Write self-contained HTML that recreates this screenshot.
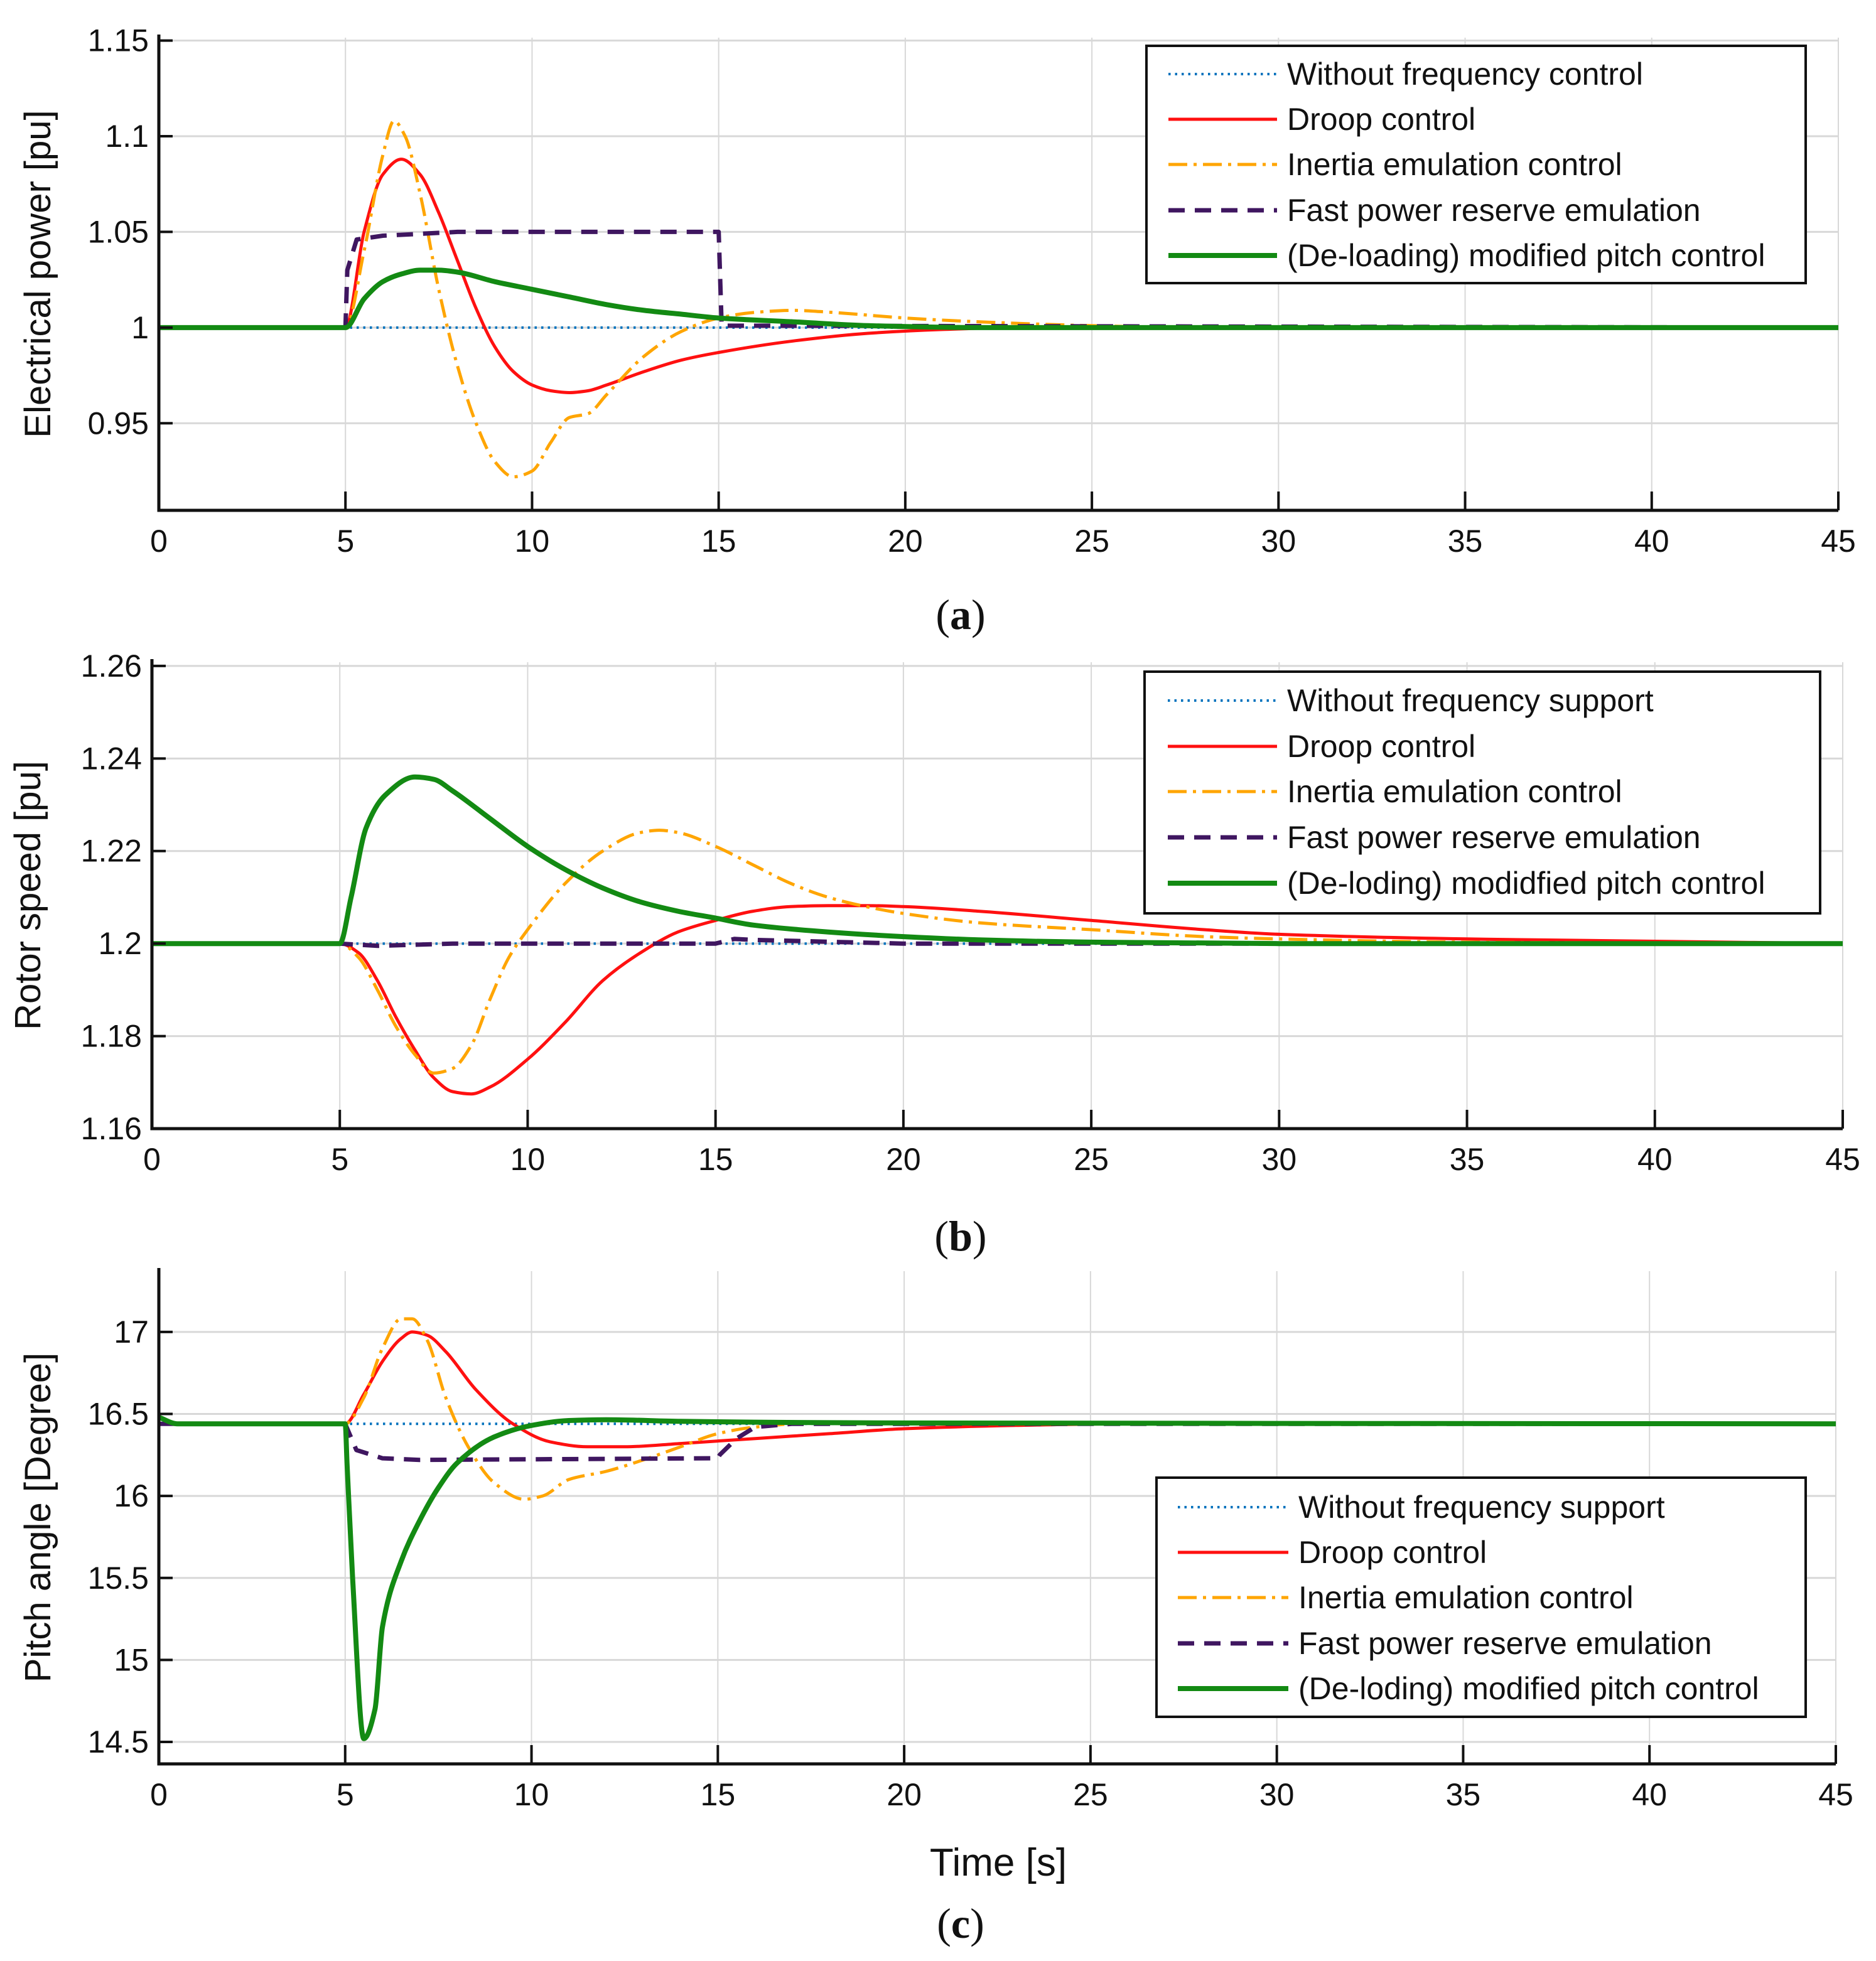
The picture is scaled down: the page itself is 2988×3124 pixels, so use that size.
<!DOCTYPE html>
<html><head><meta charset="utf-8"><style>
body{margin:0;background:#fff}
svg{display:block;font-family:"Liberation Sans",Arial,sans-serif}
</style></head><body>
<svg id="fig" width="2988" height="3124" viewBox="0 0 2988 3124" xmlns="http://www.w3.org/2000/svg"></svg>
<script>
const timeTicks=[0,5,10,15,20,25,30,35,40,45];
// Panel (a) electrical power
const aTicks=[0.95,1,1.05,1.1,1.15];
const aNoCtrl=[[0,1],[45,1]];
const aDroop=[[0,1],[5,1],[5.5,1.05],[6,1.08],[6.5,1.088],[7,1.08],[7.5,1.06],[8,1.035],[8.5,1.01],[9,0.99],[9.5,0.977],[10,0.97],[10.5,0.967],[11,0.966],[11.5,0.967],[12,0.97],[13,0.977],[14,0.983],[15,0.987],[17,0.993],[19,0.997],[21,0.999],[23,1],[45,1]];
const aInertia=[[0,1],[5,1],[5.5,1.04],[6,1.09],[6.3,1.108],[6.6,1.1],[7,1.07],[7.5,1.02],[8,0.98],[8.5,0.95],[9,0.93],[9.5,0.922],[10,0.925],[10.5,0.94],[11,0.953],[11.5,0.955],[12,0.965],[13,0.985],[14,0.998],[15,1.005],[16,1.008],[17,1.009],[18,1.008],[20,1.005],[22,1.003],[25,1.001],[28,1],[45,1]];
const aFast=[[0,1],[5,1],[5.05,1.03],[5.3,1.046],[6,1.048],[7,1.049],[8,1.05],[15,1.05],[15.08,1.001],[45,1]];
const aPitch=[[0,1],[5,1],[5.5,1.015],[6,1.024],[6.5,1.028],[7,1.03],[7.5,1.03],[8,1.029],[9,1.024],[10,1.02],[11,1.016],[12,1.012],[13,1.009],[14,1.007],[15,1.005],[17,1.003],[19,1.001],[22,1],[45,1]];
// Panel (b) rotor speed
const bTicks=[1.16,1.18,1.2,1.22,1.24,1.26];
const bNoCtrl=[[0,1.2],[45,1.2]];
const bDroop=[[0,1.2],[5,1.2],[5.5,1.198],[6,1.192],[6.5,1.184],[7,1.177],[7.5,1.171],[8,1.168],[8.5,1.1675],[9,1.169],[10,1.175],[11,1.183],[12,1.192],[13,1.198],[14,1.2025],[15,1.205],[16,1.207],[17,1.208],[18,1.2082],[19,1.2082],[20,1.208],[22,1.207],[25,1.205],[28,1.203],[30,1.202],[35,1.201],[40,1.2005],[45,1.2]];
const bInertia=[[0,1.2],[5,1.2],[5.5,1.197],[6,1.19],[6.5,1.182],[7,1.176],[7.5,1.172],[8,1.173],[8.5,1.178],[9,1.188],[9.5,1.197],[10,1.203],[11,1.213],[12,1.22],[13,1.224],[13.5,1.2245],[14,1.224],[15,1.221],[16,1.217],[17,1.213],[18,1.21],[19,1.208],[20,1.2065],[22,1.2045],[25,1.203],[28,1.2015],[30,1.201],[35,1.2003],[45,1.2]];
const bFast=[[0,1.2],[5,1.2],[6,1.1995],[8,1.2],[15,1.2],[15.5,1.201],[16,1.2008],[20,1.2],[45,1.2]];
const bPitch=[[0,1.2],[5,1.2],[5.3,1.21],[5.7,1.225],[6.2,1.232],[7,1.236],[7.5,1.2355],[8,1.233],[9,1.227],[10,1.221],[11,1.216],[12,1.212],[13,1.209],[14,1.207],[15,1.2055],[16,1.204],[18,1.2025],[20,1.2015],[22,1.2008],[25,1.2003],[30,1.2],[45,1.2]];
// Panel (c) pitch angle
const cTicks=[14.5,15,15.5,16,16.5,17];
const cNoCtrl=[[0,16.44],[45,16.44]];
const cDroop=[[0,16.44],[5,16.44],[5.5,16.62],[6,16.82],[6.5,16.96],[6.8,17],[7.2,16.98],[7.7,16.88],[8.5,16.65],[9.5,16.44],[10.5,16.33],[11.5,16.3],[12.5,16.3],[14,16.32],[16,16.35],[18,16.38],[20,16.41],[23,16.43],[26,16.44],[45,16.44]];
const cInertia=[[0,16.44],[5,16.44],[5.5,16.6],[6,16.9],[6.5,17.08],[6.8,17.08],[7.2,16.95],[7.7,16.6],[8.3,16.3],[9,16.08],[9.8,15.98],[10.3,16.0],[11,16.1],[12,16.15],[13,16.22],[14,16.3],[15,16.38],[16,16.42],[18,16.45],[20,16.45],[23,16.44],[45,16.44]];
const cFast=[[0,16.44],[5,16.44],[5.3,16.28],[6,16.23],[7,16.22],[15,16.23],[15.05,16.25],[15.5,16.35],[16,16.42],[17,16.44],[45,16.44]];
const cPitch=[[0,16.48],[0.5,16.44],[5,16.44],[5.05,16.2],[5.2,15.5],[5.5,14.52],[5.8,14.7],[6,15.2],[6.5,15.6],[7,15.85],[7.5,16.05],[8,16.2],[9,16.36],[10,16.43],[11,16.46],[12,16.465],[14,16.455],[16,16.45],[20,16.445],[45,16.44]];

const NS="http://www.w3.org/2000/svg";
const svg=document.getElementById('fig');
function mk(tag,attrs,parent){const e=document.createElementNS(NS,tag);for(const k in attrs)e.setAttribute(k,attrs[k]);(parent||svg).appendChild(e);return e;}
const styles={
 none:{stroke:'#0072BD',w:4,dash:'3.5 7'},
 droop:{stroke:'#FF1010',w:5,dash:''},
 inertia:{stroke:'#FFA500',w:5,dash:'30 10 5 10'},
 fast:{stroke:'#3F1660',w:7,dash:'26 16'},
 pitch:{stroke:'#138A13',w:8,dash:''}
};
// monotone cubic (Fritsch-Carlson) in pixel space
function monoPath(pts,sx,sy,linear){
 const P=pts.map(p=>[sx(p[0]),sy(p[1])]);
 const n=P.length;
 let d='M'+P[0][0].toFixed(1)+','+P[0][1].toFixed(1);
 if(linear||n<3){for(let i=1;i<n;i++)d+=' L'+P[i][0].toFixed(1)+','+P[i][1].toFixed(1);return d;}
 const dx=[],m=[];
 for(let i=0;i<n-1;i++){dx[i]=P[i+1][0]-P[i][0];m[i]=(P[i+1][1]-P[i][1])/dx[i];}
 const t=[m[0]];
 for(let i=1;i<n-1;i++){
  if(m[i-1]*m[i]<=0)t[i]=0;
  else{const w1=2*dx[i]+dx[i-1],w2=dx[i]+2*dx[i-1];t[i]=(w1+w2)/(w1/m[i-1]+w2/m[i]);}
 }
 t[n-1]=m[n-2];
 for(let i=0;i<n-1;i++){
  const h=dx[i]/3;
  d+=' C'+(P[i][0]+h).toFixed(1)+','+(P[i][1]+t[i]*h).toFixed(1)+' '+(P[i+1][0]-h).toFixed(1)+','+(P[i+1][1]-t[i+1]*h).toFixed(1)+' '+P[i+1][0].toFixed(1)+','+P[i+1][1].toFixed(1);
 }
 return d;
}
function panel(cfg){
 const g=mk('g',{});
 
 
 const sx=t=>cfg.x0+(t-0)/45*(cfg.x1-cfg.x0);
 const sy=v=>cfg.yb+(v-cfg.ymin)/(cfg.ymax-cfg.ymin)*(cfg.yt-cfg.yb);
 timeTicks.forEach(t=>{
  const l=mk('line',{x1:sx(t),x2:sx(t),y1:cfg.yt,y2:cfg.yb,stroke:'#d8d8d8','stroke-width':2},g);
  
  
 });
 cfg.ticks.forEach(v=>{
  const l=mk('line',{x1:cfg.x0,x2:cfg.x1,y1:sy(v),y2:sy(v),stroke:'#d8d8d8','stroke-width':3},g);
  
  
 });
 const series=[['none',cfg.s[0],true],['droop',cfg.s[1],false],['inertia',cfg.s[2],false],['fast',cfg.s[3],true],['pitch',cfg.s[4],false]];
 series.forEach(([k,pts,lin])=>{
  const st=styles[k];
  const p=mk('path',{d:monoPath(pts,sx,sy,lin),fill:'none',stroke:st.stroke,'stroke-width':st.w,'stroke-dasharray':st.dash,'stroke-linejoin':'round'},g);
  
  
 });
 const ax=mk('path',{d:`M${cfg.x0},${cfg.yt-5} L${cfg.x0},${cfg.yb} L${cfg.x1},${cfg.yb}`,fill:'none',stroke:'#111','stroke-width':5},g);
 
 
 timeTicks.forEach(t=>{
  mk('line',{x1:sx(t),x2:sx(t),y1:cfg.yb,y2:cfg.yb-30,stroke:'#111','stroke-width':4},g);
  const tx=mk('text',{x:sx(t),y:cfg.yb+66,'font-size':50,'text-anchor':'middle',fill:'#111'},g);
  tx.textContent=t;
  
  
 });
 cfg.ticks.forEach(v=>{
  mk('line',{x1:cfg.x0,x2:cfg.x0+22,y1:sy(v),y2:sy(v),stroke:'#111','stroke-width':4},g);
  const tx=mk('text',{x:cfg.x0-16,y:sy(v)+17,'font-size':50,'text-anchor':'end',fill:'#111'},g);
  tx.textContent=String(v);
  
  
 });
 const yl=mk('text',{x:0,y:0,'font-size':58,'text-anchor':'middle',fill:'#111',transform:`translate(${cfg.ylx},${(cfg.yt+cfg.yb)/2}) rotate(-90)`},g);
 yl.textContent=cfg.ylabel;
 
 
 const L=cfg.leg;
 const lg=mk('g',{},g);
 
 
 mk('rect',{x:L.x,y:L.y,width:L.w,height:L.h,fill:'#fff',stroke:'#111','stroke-width':4},lg);
 ['none','droop','inertia','fast','pitch'].forEach((k,i)=>{
  const st=styles[k];const y=L.rows[i];
  mk('line',{x1:L.lx0,x2:L.lx1,y1:y,y2:y,stroke:st.stroke,'stroke-width':st.w,'stroke-dasharray':st.dash},lg);
  const tx=mk('text',{x:L.tx,y:y+17,'font-size':50,fill:'#111'},lg);
  tx.textContent=L.labels[i];
  
  
 });
 const cap=mk('text',{x:1530,y:cfg.capY,'font-size':68,'text-anchor':'middle',fill:'#111','font-family':'Liberation Serif, serif'},g);
 cap.innerHTML=cfg.cap;
 
 
}
panel({name:'panel-a-electrical-power',x0:253,x1:2928,yt:60,yb:813,ymin:0.9045,ymax:1.1515,ticks:aTicks,
 s:[aNoCtrl,aDroop,aInertia,aFast,aPitch],ylabel:'Electrical power [pu]',ylx:80,
 leg:{x:1826,y:73,w:1050,h:378,lx0:1861,lx1:2034,tx:2050,rows:[118,190,262,335,407],
  labels:['Without frequency control','Droop  control','Inertia emulation control','Fast power reserve emulation','(De-loading) modified pitch control']},
 capY:1002,cap:'(<tspan font-weight="bold">a</tspan>)'});
panel({name:'panel-b-rotor-speed',x0:242,x1:2935,yt:1055,yb:1798,ymin:1.16,ymax:1.2608,ticks:bTicks,
 s:[bNoCtrl,bDroop,bInertia,bFast,bPitch],ylabel:'Rotor speed [pu]',ylx:64,
 leg:{x:1823,y:1070,w:1076,h:385,lx0:1860,lx1:2034,tx:2050,rows:[1116,1189,1261,1334,1407],
  labels:['Without frequency support','Droop  control','Inertia emulation control','Fast power reserve emulation','(De-loding) modidfied pitch control']},
 capY:1992,cap:'(<tspan font-weight="bold">b</tspan>)'});
panel({name:'panel-c-pitch-angle',x0:253,x1:2924,yt:2025,yb:2810,ymin:14.366,ymax:17.371,ticks:cTicks,
 s:[cNoCtrl,cDroop,cInertia,cFast,cPitch],ylabel:'Pitch angle [Degree]',ylx:80,
 leg:{x:1842,y:2354,w:1034,h:381,lx0:1876,lx1:2052,tx:2068,rows:[2401,2473,2545,2618,2690],
  labels:['Without frequency support','Droop  control','Inertia emulation control','Fast power reserve emulation','(De-loding) modified pitch control']},
 capY:3087,cap:'(<tspan font-weight="bold">c</tspan>)'});
const xt=mk('text',{x:1590,y:2988,'font-size':62,'text-anchor':'middle',fill:'#111'});
xt.textContent='Time [s]';


</script>
</body></html>
